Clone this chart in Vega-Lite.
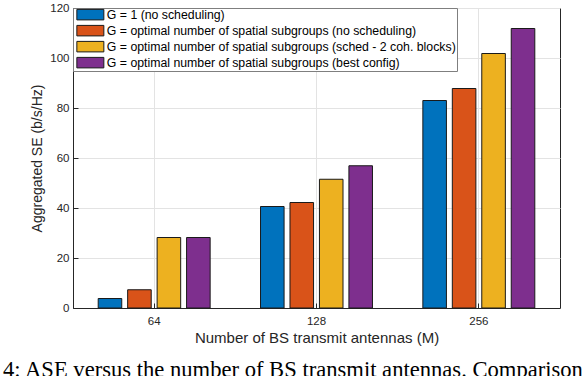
{
  "$schema": "https://vega.github.io/schema/vega-lite/v6.json",
  "width": 487,
  "height": 300,
  "autosize": {"type": "none"},
  "padding": {"left": 73, "top": 8, "right": 24, "bottom": 68},
  "background": "white",
  "title": {
    "text": "Fig. 4: ASE versus the number of BS transmit antennas. Comparison of the",
    "orient": "bottom",
    "anchor": "start",
    "dx": -69.2,
    "offset": 13.5,
    "font": "Liberation Serif",
    "fontSize": 22.6,
    "fontWeight": "normal",
    "color": "black"
  },
  "data": {
    "values": [
      {"M": "64", "series": "G = 1 (no scheduling)", "SE": 3.8},
      {"M": "64", "series": "G = optimal number of spatial subgroups (no scheduling)", "SE": 7.3},
      {"M": "64", "series": "G = optimal number of spatial subgroups (sched - 2 coh. blocks)", "SE": 28.2},
      {"M": "64", "series": "G = optimal number of spatial subgroups (best config)", "SE": 28.2},
      {"M": "128", "series": "G = 1 (no scheduling)", "SE": 40.6},
      {"M": "128", "series": "G = optimal number of spatial subgroups (no scheduling)", "SE": 42.2},
      {"M": "128", "series": "G = optimal number of spatial subgroups (sched - 2 coh. blocks)", "SE": 51.5},
      {"M": "128", "series": "G = optimal number of spatial subgroups (best config)", "SE": 56.9},
      {"M": "256", "series": "G = 1 (no scheduling)", "SE": 83.0},
      {"M": "256", "series": "G = optimal number of spatial subgroups (no scheduling)", "SE": 87.8},
      {"M": "256", "series": "G = optimal number of spatial subgroups (sched - 2 coh. blocks)", "SE": 101.8},
      {"M": "256", "series": "G = optimal number of spatial subgroups (best config)", "SE": 111.8}
    ]
  },
  "mark": {"type": "bar", "stroke": "#1a1a1a", "strokeWidth": 1},
  "encoding": {
    "x": {
      "field": "M",
      "type": "ordinal",
      "sort": ["64", "128", "256"],
      "scale": {"paddingInner": 0, "paddingOuter": 0},
      "axis": {
        "title": "Number of BS transmit antennas (M)",
        "labelAngle": 0,
        "labelPadding": 12,
        "titlePadding": 4,
        "titleFontSize": 15
      }
    },
    "xOffset": {
      "field": "series",
      "sort": [
        "G = 1 (no scheduling)",
        "G = optimal number of spatial subgroups (no scheduling)",
        "G = optimal number of spatial subgroups (sched - 2 coh. blocks)",
        "G = optimal number of spatial subgroups (best config)"
      ],
      "scale": {"paddingInner": 0.2, "paddingOuter": 0.855}
    },
    "y": {
      "field": "SE",
      "type": "quantitative",
      "scale": {"domain": [0, 120], "nice": false},
      "axis": {
        "title": "Aggregated SE (b/s/Hz)",
        "values": [0, 20, 40, 60, 80, 100, 120],
        "labelPadding": 9,
        "titlePadding": 5,
        "titleFontSize": 14
      }
    },
    "color": {
      "field": "series",
      "type": "nominal",
      "scale": {
        "domain": [
          "G = 1 (no scheduling)",
          "G = optimal number of spatial subgroups (no scheduling)",
          "G = optimal number of spatial subgroups (sched - 2 coh. blocks)",
          "G = optimal number of spatial subgroups (best config)"
        ],
        "range": ["#0072BD", "#D95319", "#EDB120", "#7E2F8E"]
      },
      "legend": {
        "orient": "top-left",
        "offset": 0,
        "title": null,
        "padding": 0.5,
        "strokeColor": "#7f7f7f",
        "fillColor": "white",
        "symbolType": "M-0.56,-1.05H4.84V1.05H-0.56Z",
        "symbolSize": 100,
        "symbolStrokeColor": "#1a1a1a",
        "symbolStrokeWidth": 1,
        "symbolOpacity": 1,
        "labelFont": "Liberation Sans",
        "labelFontSize": 12.3,
        "labelColor": "black",
        "labelLimit": 400,
        "labelOffset": 21,
        "rowPadding": 0
      }
    }
  },
  "config": {
    "view": {"stroke": "#262626", "strokeWidth": 1},
    "axis": {
      "labelFont": "Liberation Sans",
      "labelFontSize": 11.5,
      "labelColor": "#262626",
      "titleFont": "Liberation Sans",
      "titleFontWeight": "normal",
      "titleColor": "#262626",
      "domainColor": "#262626",
      "tickColor": "#262626",
      "tickSize": -5,
      "grid": true,
      "gridColor": "#e3e3e3"
    }
  }
}
